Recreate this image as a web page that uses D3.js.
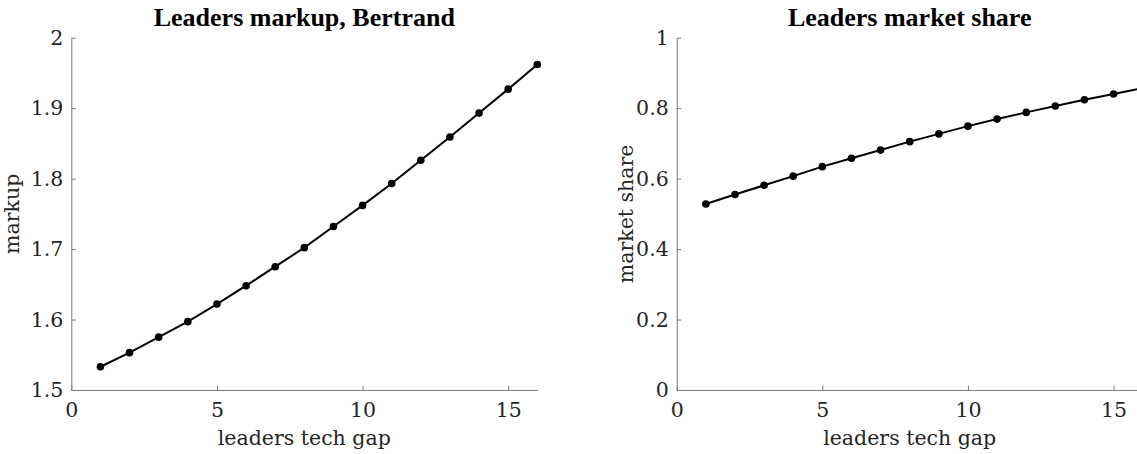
<!DOCTYPE html>
<html>
<head>
<meta charset="utf-8">
<script src="https://cdn.jsdelivr.net/npm/d3@7"></script>
<style>
  html, body { margin: 0; padding: 0; background: #fff; }
  svg { display: block; }
  text { font-family: "DejaVu Serif", serif; }
</style>
</head>
<body>
<svg id="chart" width="1137" height="454"></svg>
<script>
// ---- data ----
const techGap = [1,2,3,4,5,6,7,8,9,10,11,12,13,14,15,16];
const markup = [1.533,1.553,1.575,1.597,1.622,1.648,1.675,1.702,1.732,1.762,1.793,1.826,1.859,1.893,1.927,1.962];
const marketShare = [0.528,0.555,0.581,0.607,0.634,0.658,0.681,0.705,0.727,0.749,0.769,0.788,0.806,0.824,0.840,0.857];
const xTicks = [0,5,10,15];
const markupTicks = [1.5,1.6,1.7,1.8,1.9,2];
const shareTicks = [0,0.2,0.4,0.6,0.8,1];
const markupTickLabels = ["1.5","1.6","1.7","1.8","1.9","2"];
const shareTickLabels = ["0","0.2","0.4","0.6","0.8","1"];
const titles = ["Leaders markup, Bertrand", "Leaders market share"];
const yLabels = ["markup", "market share"];
const xLabel = "leaders tech gap";

const svg = d3.select("#chart");
const textColor = "#262626";
const axisColor = "#7a7a7a";

function panel(cfg) {
  const x = d3.scaleLinear().domain([0,16]).range([cfg.left, cfg.left + 466]);
  const y = d3.scaleLinear().domain(cfg.yDomain).range([390, 37.7]);
  const g = svg.append("g");

  const xAxis = d3.axisBottom(x).tickValues(xTicks).tickFormat(d3.format("d"))
    .tickSizeInner(-4.5).tickSizeOuter(0).tickPadding(12);
  const gx = g.append("g").attr("transform", `translate(0,${y.range()[0]})`).call(xAxis);

  const yAxis = d3.axisLeft(y).tickValues(cfg.yTicks)
    .tickFormat((d,i) => cfg.yTickLabels[i])
    .tickSizeInner(-4.5).tickSizeOuter(0).tickPadding(8);
  const gy = g.append("g").attr("transform", `translate(${x.range()[0]},0)`).call(yAxis);

  [gx, gy].forEach(a => {
    a.select(".domain").attr("stroke", axisColor).attr("stroke-width", 1);
    a.selectAll(".tick line").attr("stroke", axisColor).attr("stroke-width", 1);
    a.selectAll(".tick text").attr("fill", textColor)
      .style("font-family", "DejaVu Serif").style("font-size", "20.5px");
  });

  const line = d3.line().x((d,i) => x(techGap[i])).y(d => y(d));
  g.append("path").datum(cfg.values)
    .attr("d", line).attr("fill", "none").attr("stroke", "#000").attr("stroke-width", 2);
  g.selectAll("circle.pt").data(cfg.values).enter().append("circle")
    .attr("class", "pt")
    .attr("cx", (d,i) => x(techGap[i])).attr("cy", d => y(d))
    .attr("r", 3.8).attr("fill", "#000");

  const cx = (x.range()[0] + x.range()[1]) / 2;
  g.append("text").attr("x", cx).attr("y", 26).attr("text-anchor", "middle")
    .attr("fill", "#000").style("font-family", "Liberation Serif")
    .style("font-weight", "bold").style("font-size", "26px")
    .text(cfg.title);
  g.append("text").attr("x", cx).attr("y", 445).attr("text-anchor", "middle")
    .attr("fill", textColor).style("font-size", "20.5px").text(xLabel);
  const cy = (y.range()[0] + y.range()[1]) / 2;
  g.append("text").attr("transform", `translate(${cfg.yLabelX},${cy}) rotate(-90)`)
    .attr("text-anchor", "middle").attr("fill", textColor).style("font-size", "20.5px")
    .text(cfg.yLabel);
}

panel({left: 71.3, yDomain: [1.5, 2], yTicks: markupTicks, yTickLabels: markupTickLabels,
       values: markup, title: titles[0], yLabel: yLabels[0], yLabelX: 19});
panel({left: 676.7, yDomain: [0, 1], yTicks: shareTicks, yTickLabels: shareTickLabels,
       values: marketShare, title: titles[1], yLabel: yLabels[1], yLabelX: 633});
</script>
</body>
</html>
